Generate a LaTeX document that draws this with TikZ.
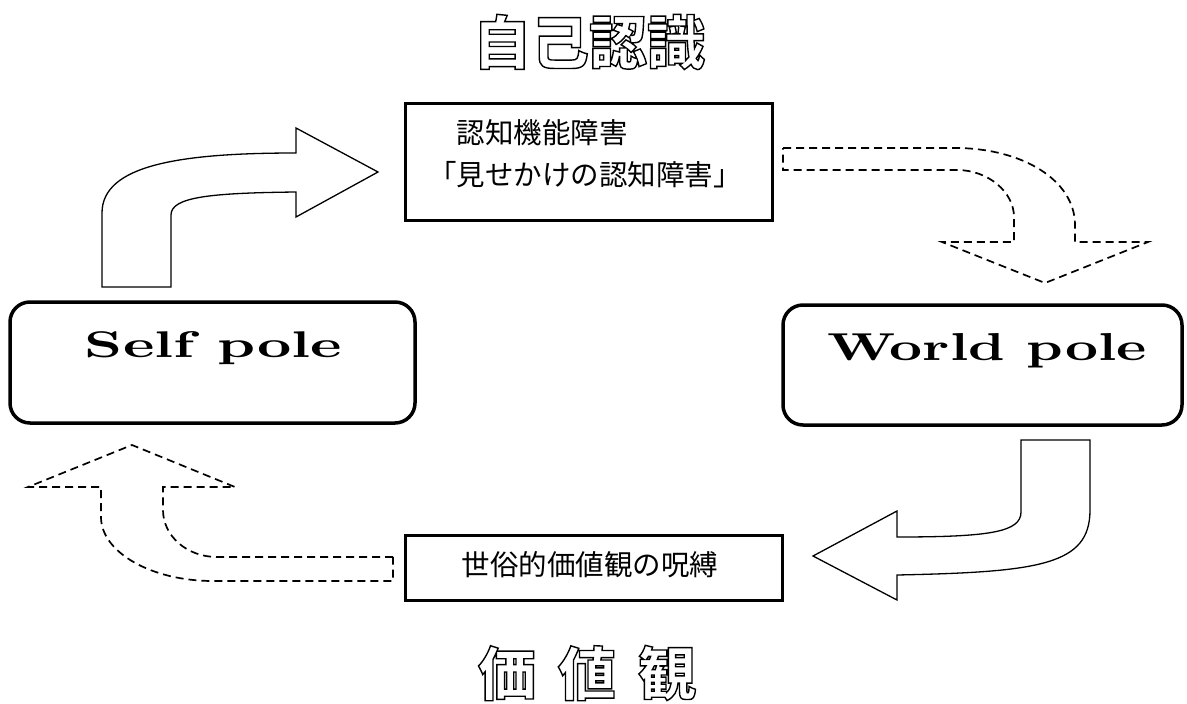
\documentclass[tikz,border=0pt]{standalone}
\usepackage{fontspec}
\usepackage{graphicx}
\newfontfamily\jp{Noto Sans CJK JP}
\newcommand{\hollowtext}[1]{\special{pdf:literal direct 1 Tr 1.4 w}#1\special{pdf:literal direct 0 Tr}}
\tikzset{
  plainbox/.style={draw, line width=3pt, inner sep=0pt},
  polebox/.style={draw, line width=3.5pt, rounded corners=20pt, inner sep=0pt},
  boxtext/.style={inner sep=0pt, align=left, font=\jp\fontsize{28.5}{42}\selectfont},
  poletext/.style={inner sep=0pt, anchor=base},
  titletext/.style={inner sep=0pt, font=\jp\bfseries\fontsize{58}{60}\selectfont},
  solidarrow/.style={draw, line width=1.3pt, fill=white, line join=miter},
  dasharrow/.style={draw, line width=1.7pt, dash pattern=on 8pt off 5pt, line join=miter}
}
\begin{document}
\begin{tikzpicture}[x=1pt, y=-1pt]
  \fill[white] (0,0) rectangle (1187,704);
  \useasboundingbox (0,0) rectangle (1187,704);

  % titles
  \node[titletext] (selfrec) at (589,42) {\hollowtext{自己認識}};
  \node[titletext] (values) at (587,673) {\hollowtext{価\hspace{22pt}値\hspace{22pt}観}};

  % boxes
  \node[plainbox, minimum width=367pt, minimum height=117pt] (cog) at (588.5,161.5) {};
  \node[boxtext, anchor=west] (cogtxt) at (428,154) {　認知機能障害\\「見せかけの認知障害」};

  \node[plainbox, minimum width=377pt, minimum height=65pt] (bond) at (593.5,567.5) {};
  \node[boxtext] (bondtxt) at (590,565) {世俗的価値観の呪縛};

  \node[polebox, minimum width=405pt, minimum height=121pt] (self) at (212.5,362.5) {};
  \node[poletext] (selftxt) at (213.5,357) {\resizebox{257pt}{26pt}{\bfseries Self pole}};

  \node[polebox, minimum width=399pt, minimum height=120pt] (world) at (982.5,365) {};
  \node[poletext] (worldtxt) at (987,360) {\resizebox{320pt}{27pt}{\bfseries World pole}};

  % solid arrow: self pole -> cognition box
  \draw[solidarrow] (102,287) -- (102,213) .. controls (102,165) and (180,153) .. (296,153)
    -- (296,128) -- (378,172) -- (296,217) -- (296,192)
    .. controls (210,193) and (171,197) .. (171,215) -- (171,287) -- cycle;

  % dashed arrow: cognition box -> world pole
  \draw[dasharrow] (783,148) -- (955,148) .. controls (1022,148) and (1075,180) .. (1075,225)
    -- (1075,242) -- (1148,242) -- (1045,283) -- (942,242) -- (1014,242) -- (1014,217)
    .. controls (1014,192) and (988,170) .. (957,170) -- (783,170) -- cycle;

  % solid arrow: world pole -> bond box
  \draw[solidarrow] (1021,440) -- (1021,512) .. controls (1021,532) and (990,537) .. (897,537)
    -- (897,511) -- (813,556) -- (897,600) -- (897,575)
    .. controls (1040,572) and (1090,565) .. (1090,510) -- (1090,440) -- cycle;

  % dashed arrow: bond box -> self pole
  \draw[dasharrow] (393,557) -- (217,557) .. controls (187,557) and (163,536) .. (163,510)
    -- (163,487) -- (235,487) -- (132,445) -- (28,487) -- (101,487) -- (101,517)
    .. controls (101,552) and (151,581) .. (213,581) -- (393,581) -- cycle;
\end{tikzpicture}
\end{document}
